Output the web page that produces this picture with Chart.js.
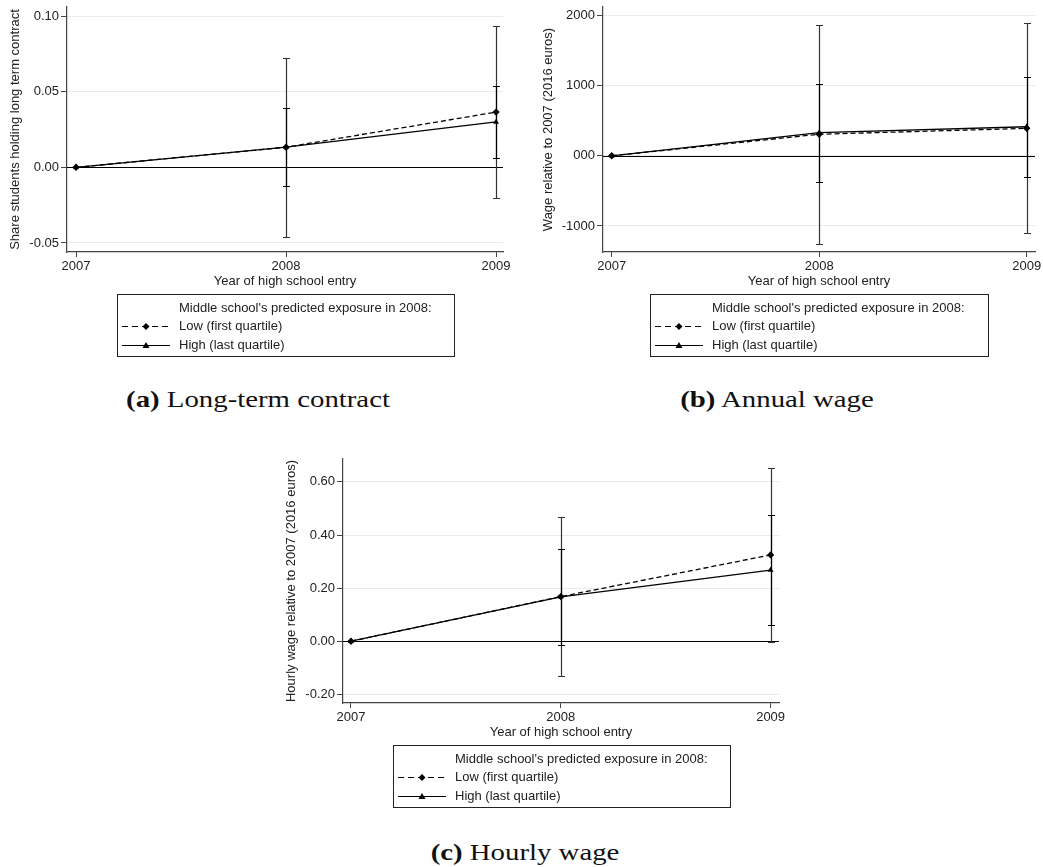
<!DOCTYPE html>
<html lang="en">
<head>
  <meta charset="UTF-8">
  <title>Event study: high school entry</title>
  <script src="https://cdn.jsdelivr.net/npm/chart.js"></script>
  <style>
    body {
      margin: 0;
      background: #fff;
      width: 1043px;
      height: 867px;
      position: relative;
      overflow: hidden;
    }
    canvas {
      position: absolute;
    }
    .cap {
      position: absolute;
      font-family: 'Liberation Serif', serif;
      font-size: 24px;
      color: #111;
      white-space: nowrap;
      transform: translate(-50%, -50%) scaleX(1.2);
    }
  </style>
</head>
<body>
  <canvas id="chartA" width="520" height="365" style="left:0;top:0"></canvas>
  <canvas id="chartB" width="523" height="365" style="left:520px;top:0"></canvas>
  <canvas id="chartC" width="530" height="380" style="left:260px;top:440px"></canvas>

  <div class="cap" style="left:258px;top:399px"><b>(a)</b> Long-term contract</div>
  <div class="cap" style="left:777px;top:399px"><b>(b)</b> Annual wage</div>
  <div class="cap" style="left:525px;top:852px"><b>(c)</b> Hourly wage</div>

  <script>
    // x categories
    const years = [2007, 2008, 2009];
    const legendTitle = "Middle school's predicted exposure in 2008:";
    const lowLabel = 'Low (first quartile)';
    const highLabel = 'High (last quartile)';
    const xTitle = 'Year of high school entry';

    // (a) long-term contract
    const lowA = [0, 0.0133, 0.0365];
    const highA = [0, 0.0134, 0.0300];
    const lowA_lo = [null, -0.0460, -0.0205];
    const lowA_hi = [null, 0.0724, 0.0936];
    const highA_lo = [null, -0.0126, 0.0064];
    const highA_hi = [null, 0.0393, 0.0536];
    const yTicksA = [-0.05, 0, 0.05, 0.10];
    const yLabelsA = ['-0.05', '0.00', '0.05', '0.10'];

    // (b) annual wage
    const lowB = [0, 307, 391];
    const highB = [0, 330, 414];
    const lowB_lo = [null, -1252, -1104];
    const lowB_hi = [null, 1867, 1886];
    const highB_lo = [null, -371, -300];
    const highB_hi = [null, 1029, 1129];
    const yTicksB = [-1000, 0, 1000, 2000];
    const yLabelsB = ['-1000', '000', '1000', '2000'];

    // (c) hourly wage
    const lowC = [0, 0.168, 0.325];
    const highC = [0, 0.167, 0.268];
    const lowC_lo = [null, -0.1325, -0.003];
    const lowC_hi = [null, 0.4675, 0.654];
    const highC_lo = [null, -0.0137, 0.061];
    const highC_hi = [null, 0.3475, 0.475];
    const yTicksC = [-0.20, 0, 0.20, 0.40, 0.60];
    const yLabelsC = ['-0.20', '0.00', '0.20', '0.40', '0.60'];

    const font = { family: "'Liberation Sans', Arial, sans-serif", size: 13 };
    const ink = '#222';
    const axisCol = '#444';

    // horizontal line at zero
    const zeroLine = {
      id: 'zeroLine',
      beforeDatasetsDraw(chart) {
        const { ctx, chartArea } = chart;
        const y = Math.round(chart.scales.y.getPixelForValue(0)) + 0.5;
        ctx.save();
        ctx.strokeStyle = '#000';
        ctx.lineWidth = 1;
        ctx.beginPath();
        ctx.moveTo(chartArea.left, y);
        ctx.lineTo(chartArea.right, y);
        ctx.stroke();
        ctx.restore();
      }
    };

    // capped confidence intervals
    const errBars = {
      id: 'errBars',
      beforeDatasetsDraw(chart, args, o) {
        const { ctx } = chart;
        const xs = chart.scales.x, ys = chart.scales.y;
        ctx.save();
        ctx.lineWidth = 1.2;
        o.bars.forEach(b => {
          ctx.strokeStyle = b.color;
          years.forEach((yr, i) => {
            if (b.lo[i] == null) return;
            const px = Math.round(xs.getPixelForValue(yr)) + 0.5;
            const y0 = Math.round(ys.getPixelForValue(b.lo[i])) + 0.5;
            const y1 = Math.round(ys.getPixelForValue(b.hi[i])) + 0.5;
            ctx.beginPath();
            ctx.moveTo(px, y0); ctx.lineTo(px, y1);
            ctx.moveTo(px - 3.5, y0); ctx.lineTo(px + 3.5, y0);
            ctx.moveTo(px - 3.5, y1); ctx.lineTo(px + 3.5, y1);
            ctx.stroke();
          });
        });
        ctx.restore();
      }
    };

    function marker(ctx, style, x, y) {
      ctx.beginPath();
      if (style === 'rectRot') {
        ctx.moveTo(x, y - 3.5); ctx.lineTo(x + 3.5, y); ctx.lineTo(x, y + 3.5); ctx.lineTo(x - 3.5, y);
      } else {
        ctx.moveTo(x, y - 3.5); ctx.lineTo(x + 3.5, y + 2.5); ctx.lineTo(x - 3.5, y + 2.5);
      }
      ctx.closePath();
      ctx.fill();
    }

    // Stata-style legend box below the plot
    const legendBox = {
      id: 'legendBox',
      afterDraw(chart, args, o) {
        const ctx = chart.ctx;
        const { x, y, w, h } = o;
        ctx.save();
        ctx.strokeStyle = ink;
        ctx.lineWidth = 1;
        ctx.strokeRect(x + 0.5, y + 0.5, w, h);
        ctx.font = "13px 'Liberation Sans', Arial, sans-serif";
        ctx.fillStyle = ink;
        ctx.textBaseline = 'middle';
        ctx.fillText(legendTitle, x + 62, y + 14);
        chart.data.datasets.forEach((ds, i) => {
          const yy = Math.round(y + 32 + i * 18.5) + 0.5;
          ctx.strokeStyle = '#000';
          ctx.lineWidth = 1.2;
          ctx.setLineDash(ds.borderDash ? [6, 4] : []);
          ctx.beginPath();
          ctx.moveTo(x + 5, yy);
          ctx.lineTo(x + 53, yy);
          ctx.stroke();
          ctx.setLineDash([]);
          ctx.fillStyle = '#000';
          marker(ctx, ds.pointStyle, x + 29, yy);
          ctx.fillStyle = ink;
          ctx.fillText(ds.label, x + 62, yy);
        });
        ctx.restore();
      }
    };

    function makePanel(id, d) {
      return new Chart(document.getElementById(id), {
        type: 'line',
        data: {
          datasets: [
            {
              label: lowLabel,
              data: years.map((x, i) => ({ x: x, y: d.low[i] })),
              borderColor: '#000',
              backgroundColor: '#000',
              borderWidth: 1.3,
              borderDash: [5, 3],
              pointStyle: 'rectRot',
              pointRadius: 3.7,
              pointBorderWidth: 0
            },
            {
              label: highLabel,
              data: years.map((x, i) => ({ x: x, y: d.high[i] })),
              borderColor: '#000',
              backgroundColor: '#000',
              borderWidth: 1.3,
              pointStyle: 'triangle',
              pointRadius: 3.4,
              pointBorderWidth: 0
            }
          ]
        },
        options: {
          responsive: false,
          animation: false,
          layout: { padding: d.pad },
          plugins: {
            legend: { display: false },
            tooltip: { enabled: false },
            errBars: { bars: d.bars },
            legendBox: d.legend
          },
          scales: {
            x: {
              type: 'linear',
              min: d.xmin,
              max: d.xmax,
              afterBuildTicks: s => { s.ticks = years.map(v => ({ value: v })); },
              ticks: { callback: v => String(v), font: font, color: ink, padding: 2, maxRotation: 0, autoSkip: false },
              grid: { drawOnChartArea: false, tickLength: 5, tickColor: axisCol },
              border: { color: axisCol, width: 1.2 },
              title: { display: true, text: xTitle, font: font, color: ink, padding: 0 },
              afterFit: s => { s.height = 37; s.paddingLeft = 0; s.paddingRight = 0; }
            },
            y: {
              min: d.ymin,
              max: d.ymax,
              afterBuildTicks: s => { s.ticks = d.yTicks.map(v => ({ value: v })); },
              ticks: { callback: (v, i) => d.yLabels[i], font: font, color: ink, padding: 2 },
              grid: { color: '#e3ecee', tickLength: 6, tickColor: axisCol },
              border: { color: axisCol, width: 1.2 },
              title: { display: true, text: d.yTitle, font: font, color: ink, padding: { top: d.ytPad, bottom: 0 } },
              afterFit: s => { s.width = d.yWidth; s.paddingTop = 0; s.paddingBottom = 0; }
            }
          }
        },
        plugins: [zeroLine, errBars, legendBox]
      });
    }

    makePanel('chartA', {
      low: lowA, high: highA,
      bars: [
        { lo: lowA_lo, hi: lowA_hi, color: '#333' },
        { lo: highA_lo, hi: highA_hi, color: '#000' }
      ],
      yTicks: yTicksA, yLabels: yLabelsA,
      yTitle: 'Share students holding long term contract',
      ymin: -0.056, ymax: 0.106, xmin: 2006.957, xmax: 2009.033,
      pad: { left: 0, top: 7, right: 17, bottom: 76 },
      yWidth: 67, ytPad: 7.9,
      legend: { x: 117, y: 294, w: 337, h: 62 }
    });

    makePanel('chartB', {
      low: lowB, high: highB,
      bars: [
        { lo: lowB_lo, hi: lowB_hi, color: '#333' },
        { lo: highB_lo, hi: highB_hi, color: '#000' }
      ],
      yTicks: yTicksB, yLabels: yLabelsB,
      yTitle: 'Wage relative to 2007 (2016 euros)',
      ymin: -1371, ymax: 2120, xmin: 2006.958, xmax: 2009.04,
      pad: { left: 0, top: 7, right: 8, bottom: 76 },
      yWidth: 83, ytPad: 20.5,
      legend: { x: 130, y: 294, w: 338, h: 62 }
    });

    makePanel('chartC', {
      low: lowC, high: highC,
      bars: [
        { lo: lowC_lo, hi: lowC_hi, color: '#333' },
        { lo: highC_lo, hi: highC_hi, color: '#000' }
      ],
      yTicks: yTicksC, yLabels: yLabelsC,
      yTitle: 'Hourly wage relative to 2007 (2016 euros)',
      ymin: -0.2326, ymax: 0.6862, xmin: 2006.962, xmax: 2009.04,
      pad: { left: 0, top: 19, right: 11, bottom: 80 },
      yWidth: 83, ytPad: 23.9,
      legend: { x: 133, y: 305, w: 337, h: 62 }
    });
  </script>
</body>
</html>
